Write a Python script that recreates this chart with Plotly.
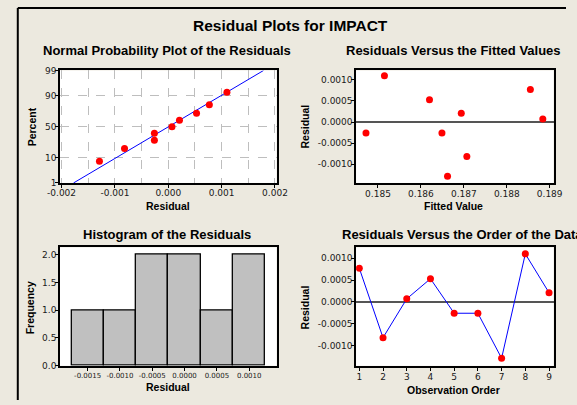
import numpy as np
import plotly.graph_objects as go
from statistics import NormalDist

# ---------------- data ----------------
observation = [1, 2, 3, 4, 5, 6, 7, 8, 9]
residuals = [0.00077, -0.00082, 0.00007, 0.00053, -0.00026, -0.00026, -0.00129, 0.00110, 0.00021]
fitted = [0.18855, 0.18707, 0.18884, 0.18620, 0.18472, 0.18649, 0.18662, 0.18515, 0.18694]

prob_ticks = [1, 10, 50, 90, 99]
prob_labels = ["1", "10", "50", "90", "99"]
np_xticks = [-0.002, -0.001, 0.0, 0.001, 0.002]
np_xlabels = ["-0.002", "-0.001", "0.000", "0.001", "0.002"]
res_ticks = [0.0010, 0.0005, 0.0, -0.0005, -0.0010]
res_labels = ["0.0010", "0.0005", "0.0000", "-0.0005", "-0.0010"]
fit_ticks = [0.185, 0.186, 0.187, 0.188, 0.189]
fit_labels = ["0.185", "0.186", "0.187", "0.188", "0.189"]
hist_xticks = [-0.0015, -0.0010, -0.0005, 0.0, 0.0005, 0.0010]
hist_xlabels = ["-0.0015", "-0.0010", "-0.0005", "0.0000", "0.0005", "0.0010"]
freq_ticks = [0.0, 0.5, 1.0, 1.5, 2.0]
freq_labels = ["0.0", "0.5", "1.0", "1.5", "2.0"]

# ---------------- derived ----------------
nd = NormalDist()
n = len(residuals)
sorted_res = sorted(residuals)
pct = [(i - 0.3) / (n + 0.4) for i in range(1, n + 1)]
z_pts = [nd.inv_cdf(p) for p in pct]
z_ticks = [nd.inv_cdf(p / 100) for p in prob_ticks]
mu = float(np.mean(residuals))
sd = float(np.std(residuals, ddof=1))
z_lo, z_hi = nd.inv_cdf(0.01) - 0.02, nd.inv_cdf(0.99) + 0.02
line_z = [z_lo, z_hi]
line_x = [mu + sd * z for z in line_z]

W, H = 577, 405
BG = "#ECE9DF"
FONT = "Liberation Sans, Arial, sans-serif"
TICKFONT = "DejaVu Sans, Verdana, sans-serif"


def px(x):
    return x / W


def py(y):
    return 1 - y / H


fig = go.Figure()

# Normal probability plot
fig.add_trace(go.Scatter(x=line_x, y=line_z, mode="lines", line=dict(color="#0000FF", width=1),
                         xaxis="x", yaxis="y", showlegend=False, hoverinfo="skip"))
fig.add_trace(go.Scatter(x=sorted_res, y=z_pts, mode="markers",
                         marker=dict(color="#FF0000", size=7), xaxis="x", yaxis="y", showlegend=False))

# Residuals vs fitted
fig.add_trace(go.Scatter(x=fitted, y=residuals, mode="markers",
                         marker=dict(color="#FF0000", size=7), xaxis="x2", yaxis="y2", showlegend=False))

# Histogram
fig.add_trace(go.Histogram(x=residuals, xbins=dict(start=-0.00175, end=0.00125, size=0.0005),
                           marker=dict(color="#C0C0C0", line=dict(color="#000000", width=1.3)),
                           xaxis="x3", yaxis="y3", showlegend=False))

# Residuals vs order
fig.add_trace(go.Scatter(x=observation, y=residuals, mode="lines+markers",
                         line=dict(color="#0000FF", width=1),
                         marker=dict(color="#FF0000", size=7), xaxis="x4", yaxis="y4", showlegend=False))

tickfont = dict(family=TICKFONT, size=9, color="#1A1A1A")


def ax(**kw):
    d = dict(showline=True, mirror=True, linecolor="#000000", linewidth=1.5,
             ticks="outside", ticklen=3, tickcolor="#000000", tickfont=tickfont,
             zeroline=False, showgrid=False)
    d.update(kw)
    return d


dom_x_left = [px(49), px(275)]
dom_x_right = [px(358), px(564)]
dom_y_top = [py(183), py(68)]
dom_y_bot = [py(370), py(249)]
GRID = "#BEBEBE"
YSO = -3

fig.update_layout(
    width=W, height=H,
    margin=dict(l=0, r=0, t=0, b=0),
    paper_bgcolor=BG, plot_bgcolor="#FFFFFF",
    font=dict(family=FONT, color="#111111"),
    bargap=0,
    xaxis=ax(domain=dom_x_left, anchor="y", range=[-0.00203, 0.00203],
             tickvals=np_xticks, ticktext=np_xlabels, ticklabelstandoff=-2,
             showgrid=True, gridcolor=GRID, griddash="dash", gridwidth=1,
             minor=dict(dtick=0.0005, tick0=0, showgrid=True, gridcolor=GRID,
                        griddash="dash", ticks="")),
    yaxis=ax(domain=dom_y_top, anchor="x", range=[z_lo, z_hi],
             tickvals=z_ticks, ticktext=prob_labels, ticklabelstandoff=YSO,
             showgrid=True, gridcolor=GRID, griddash="dash", gridwidth=1),
    xaxis2=ax(domain=dom_x_right, anchor="y2", range=[0.18449, 0.18909],
              tickvals=fit_ticks, ticktext=fit_labels, ticklabelstandoff=-1),
    yaxis2=ax(domain=dom_y_top, anchor="x2", range=[-0.001446, 0.001223],
              tickvals=res_ticks, ticktext=res_labels, ticklabelstandoff=YSO,
              zeroline=True, zerolinecolor="#555555", zerolinewidth=1.5),
    xaxis3=ax(domain=dom_x_left, anchor="y3", range=[-0.001928, 0.001423],
              tickvals=hist_xticks, ticktext=hist_xlabels, ticklabelstandoff=-1,
              tickfont=dict(family=TICKFONT, size=7, color="#1A1A1A")),
    yaxis3=ax(domain=dom_y_bot, anchor="x3", range=[-0.006, 2.13],
              tickvals=freq_ticks, ticktext=freq_labels, ticklabelstandoff=YSO),
    xaxis4=ax(domain=dom_x_right, anchor="y4", range=[0.865, 9.19],
              tickvals=observation, ticktext=[str(o) for o in observation],
              ticklabelstandoff=-1),
    yaxis4=ax(domain=dom_y_bot, anchor="x4", range=[-0.001463, 0.001246],
              tickvals=res_ticks, ticktext=res_labels, ticklabelstandoff=YSO,
              zeroline=True, zerolinecolor="#555555", zerolinewidth=1.5),
)

annos = [
    ("Residual Plots for IMPACT", 290, 22, 15.5, 0, "center"),
    ("Normal Probability Plot of the Residuals", 161, 48, 13, 0, "center"),
    ("Residuals Versus the Fitted Values", 460, 48, 13, 0, "center"),
    ("Histogram of the Residuals", 161, 236, 13, 0, "center"),
    ("Residuals Versus the Order of the Data", 341, 236, 13, 0, "left"),
    ("Residual", 162, 207, 10.5, 0, "center"),
    ("Fitted Value", 460, 207, 10.5, 0, "center"),
    ("Residual", 162, 392, 10.5, 0, "center"),
    ("Observation Order", 460, 395, 10.5, 0, "center"),
    ("Percent", 20, 126, 10.5, -90, "center"),
    ("Residual", 305, 125, 10.5, -90, "center"),
    ("Frequency", 18, 311, 10.5, -90, "center"),
    ("Residual", 305, 310, 10.5, -90, "center"),
]
for text, x, y, size, ang, anchor in annos:
    fig.add_annotation(text=text, x=px(x), y=py(y), xref="paper", yref="paper",
                       xanchor=anchor, yanchor="middle", showarrow=False, textangle=ang,
                       font=dict(family=FONT, size=size, color="#000000", weight="bold"))

# outer frame (top and left edges visible in the crop)
fig.add_shape(type="line", xref="paper", yref="paper", x0=px(5), x1=1, y0=py(4), y1=py(4),
              line=dict(color="#000000", width=2))
fig.add_shape(type="line", xref="paper", yref="paper", x0=px(5), x1=px(5), y0=py(4), y1=0,
              line=dict(color="#000000", width=2))

fig.write_html("out.html")
